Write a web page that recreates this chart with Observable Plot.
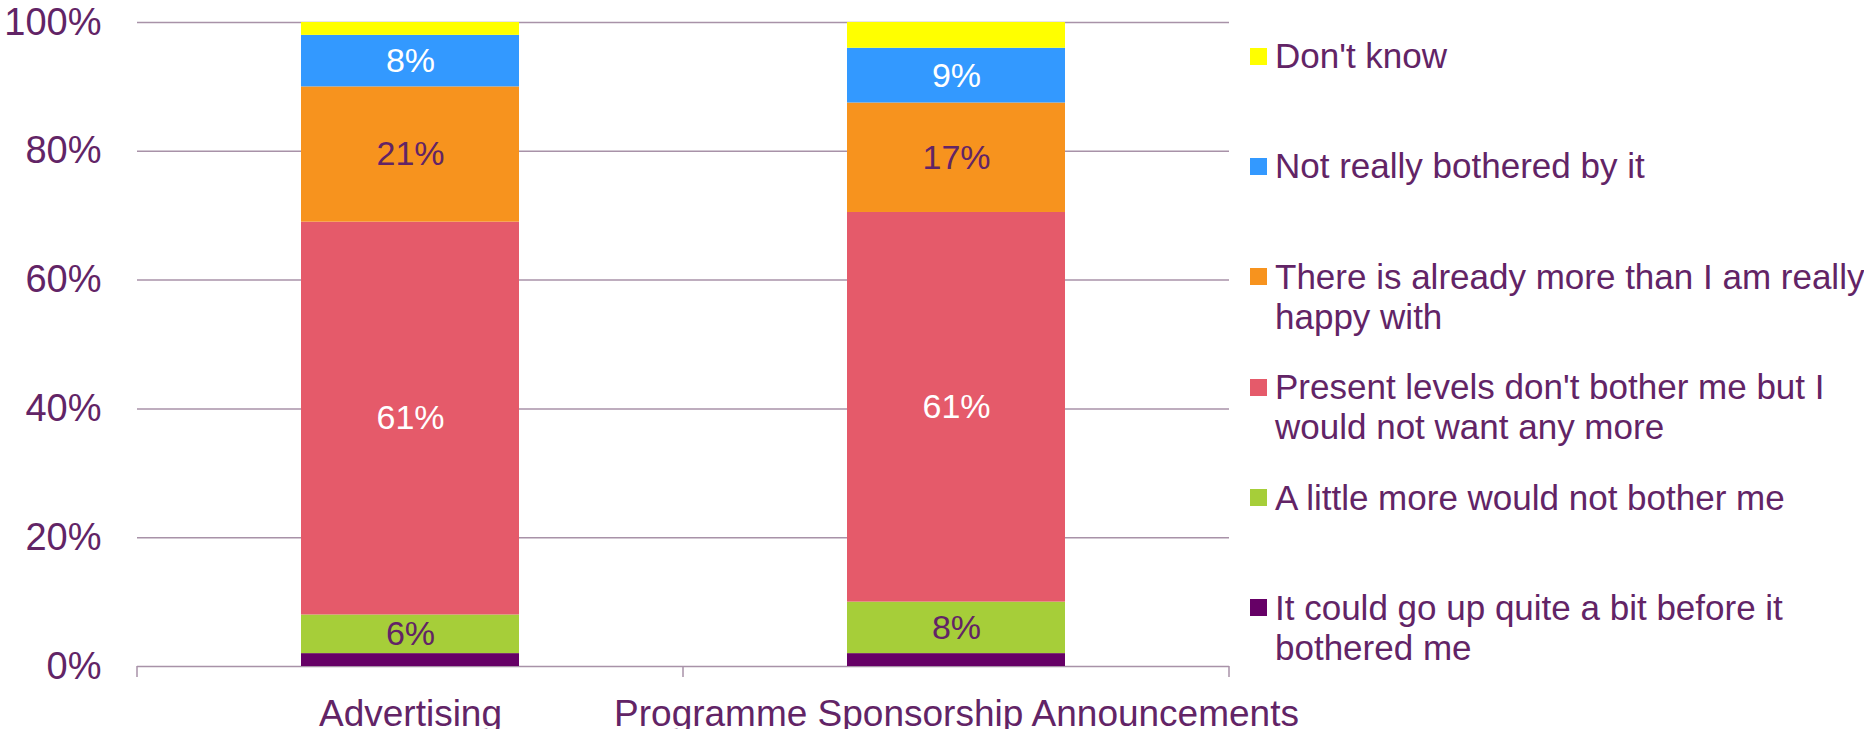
<!DOCTYPE html>
<html>
<head>
<meta charset="utf-8">
<script src="https://cdn.jsdelivr.net/npm/d3@7"></script>
<script src="https://cdn.jsdelivr.net/npm/@observablehq/plot@0.6"></script>
<style>
  html, body { margin: 0; padding: 0; background: #fff; }
  #wrap { position: relative; width: 1864px; height: 729px; overflow: hidden; }
  #legend { position: absolute; left: 1250px; top: 36px; font-family: "Liberation Sans", Arial, sans-serif; font-size: 35px; color: #622466; }
  .item { display: flex; align-items: flex-start; height: 110.4px; }
  .sw { width: 17px; height: 17px; margin-top: 11.5px; margin-right: 8px; flex: none; }
  .lab { width: 600px; line-height: 40px; }
</style>
</head>
<body>
<div id="wrap"><div id="legend"></div></div>
<script>
// ---- data ----
const categories = ["Advertising", "Programme Sponsorship Announcements"];
const responses = [
  "It could go up quite a bit before it bothered me",
  "A little more would not bother me",
  "Present levels don't bother me but I would not want any more",
  "There is already more than I am really happy with",
  "Not really bothered by it",
  "Don't know"
];
const advertising = [2, 6, 61, 21, 8, 2];
const sponsorship = [2, 8, 60.5, 17, 8.5, 4];
const colors = ["#660066", "#A6CE39", "#E55A6A", "#F7931E", "#3399FF", "#FFFF00"];
const whiteLabelResponses = [responses[2], responses[4]];
const darkLabelResponses = [responses[1], responses[3]];
const yTicks = [0, 20, 40, 60, 80, 100];

const textColor = "#622466";
const gridColor = "#A892A8";
const font = "'Liberation Sans', Arial, sans-serif";

const seriesValues = [advertising, sponsorship];
const rows = [];
categories.forEach((c, ci) => responses.forEach((r, ri) => rows.push({category: c, response: r, value: seriesValues[ci][ri]})));

const fmt = d => `${Math.round(d.value)}%`;

const boundaryTicks = (index, scales, values, dims) => {
  const n = categories.length;
  const x0 = dims.marginLeft, x1 = dims.width - dims.marginRight;
  const y0 = dims.height - dims.marginBottom;
  const g = d3.create("svg:g");
  d3.range(n + 1).forEach(i => {
    const x = x0 + (x1 - x0) * i / n;
    g.append("line").attr("x1", x).attr("x2", x).attr("y1", y0).attr("y2", y0 + 11)
      .attr("stroke", gridColor).attr("stroke-width", 1.5);
  });
  return g.node();
};

const plot = Plot.plot({
  width: 1864,
  height: 729,
  marginLeft: 137,
  marginRight: 635,
  marginTop: 22,
  marginBottom: 63,
  style: {fontFamily: font, fontSize: "34px", color: textColor, background: "white", overflow: "visible"},
  x: {domain: categories, paddingInner: 0.6, paddingOuter: 0.3, label: null},
  y: {domain: [0, 100], label: null},
  color: {domain: responses, range: colors},
  marks: [
    Plot.ruleY(yTicks, {stroke: gridColor, strokeWidth: 1.5}),
    Plot.barY(rows, {x: "category", y: "value", z: "response", fill: "response"}),
    Plot.text(rows, Plot.stackY({x: "category", y: "value", z: "response",
      text: d => whiteLabelResponses.includes(d.response) ? fmt(d) : null,
      fill: "white", fontSize: 34})),
    Plot.text(rows, Plot.stackY({x: "category", y: "value", z: "response",
      text: d => darkLabelResponses.includes(d.response) ? fmt(d) : null,
      fill: textColor, fontSize: 34})),
    boundaryTicks,
    Plot.axisY({ticks: yTicks, tickFormat: d => d + "%", tickSize: 0, tickPadding: 36, fontSize: 38, fill: textColor}),
    Plot.axisX({tickSize: 0, tickPadding: 33, fontSize: 37, fill: textColor})
  ]
});

const wrap = document.getElementById("wrap");
wrap.insertBefore(plot, wrap.firstChild);

// ---- legend (top-to-bottom is reverse of stacking order) ----
const legend = document.getElementById("legend");
responses.slice().reverse().forEach(r => {
  const item = document.createElement("div");
  item.className = "item";
  const sw = document.createElement("div");
  sw.className = "sw";
  sw.style.background = colors[responses.indexOf(r)];
  const lab = document.createElement("div");
  lab.className = "lab";
  lab.textContent = r;
  item.appendChild(sw);
  item.appendChild(lab);
  legend.appendChild(item);
});
</script>
</body>
</html>
